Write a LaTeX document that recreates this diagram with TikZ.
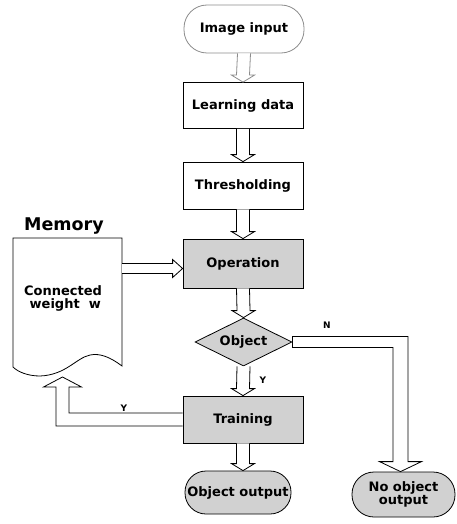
\documentclass[tikz,border=0pt]{standalone}
\usepackage{fontspec}
\setmainfont{DejaVu Sans}
\usetikzlibrary{shapes.geometric,calc}
\tikzset{
  lbl/.style={font=\bfseries\fontsize{13}{15}\selectfont, align=center},
  small/.style={font=\bfseries\fontsize{9}{10}\selectfont},
  box/.style={lbl, draw, line width=0.8pt, rectangle, minimum width=120pt, minimum height=47pt, inner sep=0pt},
  shaded/.style={fill=black!18},
  term/.style={lbl, draw, line width=0.8pt, rectangle, rounded corners=21pt, inner sep=0pt},
  harrow/.style={draw, line width=0.8pt, fill=white, line join=miter},
  faint/.style={draw=black!45}
}
\newcommand\hdown[3][]{%
  \draw[harrow,#1] ($(#2)+(-6.5,0)$) -- ($(#3)+(-6.5,-7)$) -- ($(#3)+(-11.5,-7)$) -- (#3)
    -- ($(#3)+(11.5,-7)$) -- ($(#3)+(6.5,-7)$) -- ($(#2)+(6.5,0)$);}
\begin{document}
\begin{tikzpicture}[x=1pt,y=-1pt]
\useasboundingbox (0,0) rectangle (456,524);
% nodes
\node[term, faint, minimum width=120pt, minimum height=48pt, rounded corners=23pt] (in) at (244,29) {Image input};
\node[box, minimum height=46pt] (ld) at (243,105.5) {Learning data};
\node[box] (th) at (243,185.5) {Thresholding};
\node[box, shaded, minimum height=49pt] (op) at (243,263.5) {Operation};
\node[lbl, draw, line width=0.8pt, shaded, diamond, aspect=2, minimum width=97pt, minimum height=48pt, inner sep=0pt] (obj) at (243.5,342) {Object};
\node[box, shaded] (tr) at (243,419.5) {Training};
\node[term, shaded, minimum width=106pt, minimum height=43pt] (oo) at (238,492.5) {Object output};
\node[term, shaded, minimum width=103pt, minimum height=45pt, rounded corners=22pt] (no) at (403.5,494.5) {No object\\[-2pt]output};
\node[font=\bfseries\fontsize{17.5}{20}\selectfont] (memlbl) at (64,226) {Memory};
% memory document
\draw[line width=0.8pt, fill=white] (13,238) -- (122,238) -- (122,366)
  .. controls (110,357) and (100,353) .. (90,355)
  .. controls (76,358) and (66,375) .. (40,376)
  .. controls (28,376) and (18,372) .. (13,367) -- cycle;
\node[lbl] (mem) at (63,298) {Connected\\[-2pt]\ weight\ \ w};
\coordinate (memR) at (122,268.5);
\coordinate (memB) at (62.5,377);
% vertical arrows
\hdown[faint]{in.south}{ld.north}
\hdown{ld.south}{th.north}
\hdown{th.south}{op.north}
\hdown{op.south}{obj.north}
\hdown{obj.south}{tr.north}
\hdown{tr.south}{tr.south |- oo.north}
% memory -> operation
\coordinate (opin) at ($(op.west)+(0,5)$);
\draw[harrow] ($(memR)+(0,-5)$) -- ($(opin)+(-10,-5)$) -- ($(opin)+(-10,-9)$) -- (opin)
  -- ($(opin)+(-10,9)$) -- ($(opin)+(-10,5)$) -- ($(memR)+(0,5)$);
% object -> no object (N)
\coordinate (notip) at ($(no.north)+(-3,0)$);
\draw[harrow] ($(obj.east)+(0,-5.5)$) -- ($(notip |- obj.east)+(7.5,-5.5)$) -- ($(notip)+(7.5,-10)$)
  -- ($(notip)+(21,-10)$) -- (notip) -- ($(notip)+(-21,-10)$) -- ($(notip)+(-7.5,-10)$)
  -- ($(notip |- obj.east)+(-7.5,5.5)$) -- ($(obj.east)+(0,5.5)$) -- cycle;
% training -> memory (Y)
\draw[harrow] ($(tr.west)+(0,6.5)$) -- ($(memB |- tr.west)+(-6.5,6.5)$) -- ($(memB)+(-6.5,10)$)
  -- ($(memB)+(-19,10)$) -- (memB) -- ($(memB)+(19,10)$) -- ($(memB)+(6.5,10)$)
  -- ($(memB |- tr.west)+(6.5,-6.5)$) -- ($(tr.west)+(0,-6.5)$);
% labels
\node[small] (ylbl) at (263,380) {Y};
\node[small] (nlbl) at (327,325) {N};
\node[small] (ylbl2) at (124,408) {Y};
\end{tikzpicture}
\end{document}
